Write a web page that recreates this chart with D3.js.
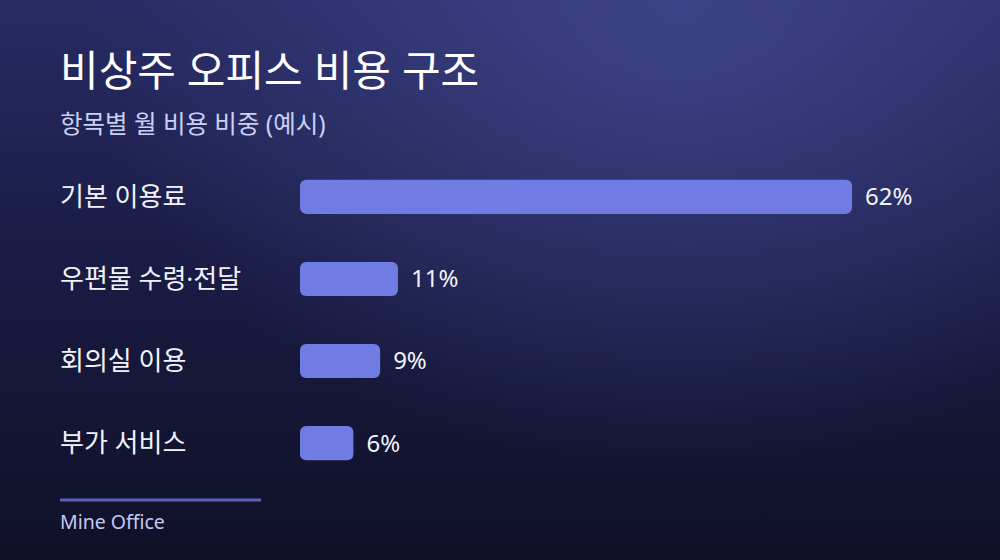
<!DOCTYPE html>
<html>
<head>
<meta charset="utf-8">
<script src="https://cdn.jsdelivr.net/npm/d3@7"></script>
<style>
  html, body { margin: 0; padding: 0; background: #12132e; }
  svg { display: block; font-family: "Noto Sans", "Noto Sans CJK KR", sans-serif; }
</style>
</head>
<body>
<svg id="chart"></svg>
<script>
const categories = ['기본 이용료', '우편물 수령·전달', '회의실 이용', '부가 서비스'];
const shares = [62, 11, 9, 6];
const valueLabels = ['62%', '11%', '9%', '6%'];

const width = 1000;
const height = 560;

const svg = d3.select('#chart')
  .attr('width', width)
  .attr('height', height);

const defs = svg.append('defs');

const bg = defs.append('linearGradient')
  .attr('id', 'bg')
  .attr('x1', 0).attr('y1', 0)
  .attr('x2', 0).attr('y2', 1);
bg.append('stop').attr('offset', '0%').attr('stop-color', '#272b64');
bg.append('stop').attr('offset', '45%').attr('stop-color', '#1a1c45');
bg.append('stop').attr('offset', '100%').attr('stop-color', '#0f1027');

const glow = defs.append('radialGradient')
  .attr('id', 'glow')
  .attr('cx', 0.68).attr('cy', 0)
  .attr('r', 0.6)
  .attr('gradientTransform', 'translate(0.68,0) scale(1,1.4) translate(-0.68,0)');
glow.append('stop').attr('offset', '0%').attr('stop-color', '#3c4386').attr('stop-opacity', 1);
glow.append('stop').attr('offset', '100%').attr('stop-color', '#3c4386').attr('stop-opacity', 0);

svg.append('rect').attr('width', width).attr('height', height).attr('fill', 'url(#bg)');
svg.append('rect').attr('width', width).attr('height', height).attr('fill', 'url(#glow)');

// title
svg.append('text')
  .attr('x', 60).attr('y', 86)
  .attr('fill', '#ffffff')
  .attr('font-size', 42)
  .attr('font-weight', 400)
  .text('비상주 오피스 비용 구조');

svg.append('text')
  .attr('x', 60).attr('y', 133)
  .attr('fill', '#c9d0f5')
  .attr('font-size', 24.5)
  .text('항목별 월 비용 비중 (예시)');

// bars
const x = d3.scaleLinear()
  .domain([0, d3.max(shares)])
  .range([300, 852]);

const y = d3.scaleBand()
  .domain(categories)
  .range([156, 484])
  .paddingInner(0.585)
  .paddingOuter(0.29);

const rows = svg.append('g')
  .selectAll('g')
  .data(categories)
  .join('g');

rows.append('text')
  .attr('x', 60)
  .attr('y', d => y(d) + y.bandwidth() / 2)
  .attr('dy', '0.35em')
  .attr('fill', '#f2f3fa')
  .attr('font-size', 26)
  .text(d => d);

rows.append('rect')
  .attr('x', x(0))
  .attr('y', d => y(d))
  .attr('width', (d, i) => x(shares[i]) - x(0))
  .attr('height', y.bandwidth())
  .attr('rx', 6)
  .attr('ry', 6)
  .attr('fill', '#707ce4');

rows.append('text')
  .attr('x', (d, i) => x(shares[i]) + 13)
  .attr('y', d => y(d) + y.bandwidth() / 2)
  .attr('dy', '0.35em')
  .attr('fill', '#f2f3fa')
  .attr('font-size', 24)
  .text((d, i) => valueLabels[i]);

// footer
svg.append('line')
  .attr('x1', 60).attr('x2', 261)
  .attr('y1', 500).attr('y2', 500)
  .attr('stroke', '#5a60b4')
  .attr('stroke-width', 3);

svg.append('text')
  .attr('x', 60).attr('y', 529)
  .attr('fill', '#c3caf2')
  .attr('font-size', 19.5)
  .text('Mine Office');
</script>
</body>
</html>
